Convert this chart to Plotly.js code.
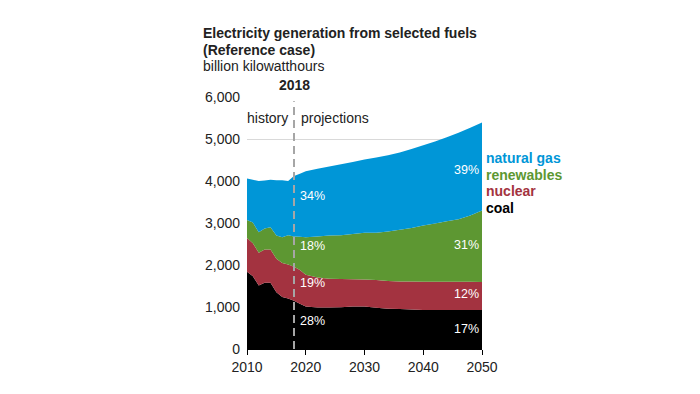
<!DOCTYPE html>
<html>
<head>
<meta charset="utf-8">
<script src="https://cdn.plot.ly/plotly-3.0.1.min.js"></script>
<style>html,body{margin:0;padding:0;background:#fff;}#chart{width:700px;height:394px;}</style>
</head>
<body>
<div id="chart"></div>
<script>
const years = [2010,2011,2012,2013,2014,2015,2016,2017,2018,2019,2020,2022,2024,2026,2028,2030,2032,2034,2036,2038,2040,2042,2044,2046,2048,2050];
const coal = [1840,1730,1510,1580,1580,1350,1240,1200,1150,1080,1010,990,990,995,1010,1010,985,960,950,940,930,930,930,930,930,930];
const nuclear = [800,790,780,790,790,800,810,810,810,800,760,710,680,670,650,645,655,660,660,665,670,670,670,670,670,665];
const renewables = [430,490,490,500,530,550,610,700,720,790,890,980,1030,1045,1080,1115,1130,1180,1230,1275,1340,1390,1440,1490,1580,1700];
const naturalGas = [990,1020,1220,1140,1130,1320,1360,1290,1440,1500,1570,1610,1645,1690,1715,1740,1790,1815,1840,1880,1910,1950,2000,2060,2090,2100];

const seriesNames = ['coal','nuclear','renewables','natural gas'];
const seriesColors = ['#000000','#a33340','#5d9732','#0096d7'];
const shares2018 = ['28%','19%','18%','34%'];
const shares2050 = ['17%','12%','31%','39%'];
const projectionStart = 2018;

const FONT = 'Liberation Sans, Arial, sans-serif';
const allSeries = [coal, nuclear, renewables, naturalGas];

const traces = allSeries.map((vals, i) => ({
  x: years, y: vals, name: seriesNames[i], type: 'scatter', mode: 'none',
  stackgroup: 'one', fillcolor: seriesColors[i], hoverinfo: 'x+y+name'
}));

// label positions (data coords) for share labels
const leftY = [667, 1566, 2462, 3647];
const rightY = [477, 1304, 2479, 4267];

const annotations = [];
shares2018.forEach((t, i) => annotations.push({
  x: 2018.7, y: leftY[i], xref: 'x', yref: 'y', text: t, showarrow: false,
  xanchor: 'left', yanchor: 'middle', font: {family: FONT, size: 12.5, color: '#ffffff'}
}));
shares2050.forEach((t, i) => annotations.push({
  x: 2049.8, y: rightY[i], xref: 'x', yref: 'y', text: t, showarrow: false,
  xanchor: 'right', yanchor: 'middle', font: {family: FONT, size: 12.5, color: '#ffffff'}
}));
// end legend labels
const legendY = [0.559, 0.6277, 0.6913, 0.7577];
seriesNames.forEach((n, i) => annotations.push({
  x: 1.0106, y: legendY[i], xref: 'paper', yref: 'paper', text: '<b>' + n + '</b>',
  showarrow: false, xanchor: 'left', yanchor: 'middle',
  font: {family: FONT, size: 14, color: seriesColors[i]}
}));
annotations.push({x: projectionStart, y: 1.049, xref: 'x', yref: 'paper', text: '<b>2018</b>',
  showarrow: false, xanchor: 'center', yanchor: 'middle', font: {family: FONT, size: 14, color: '#222'}});
annotations.push({x: 2017.3, y: 0.915, xref: 'x', yref: 'paper', text: 'history',
  showarrow: false, xanchor: 'right', yanchor: 'middle', font: {family: FONT, size: 14, color: '#222'}});
annotations.push({x: 2018.8, y: 0.915, xref: 'x', yref: 'paper', text: 'projections',
  showarrow: false, xanchor: 'left', yanchor: 'middle', font: {family: FONT, size: 14, color: '#222'}});
annotations.push({x: -0.197, y: 1.2543, xref: 'paper', yref: 'paper', text: '<b>Electricity generation from selected fuels</b>',
  showarrow: false, xanchor: 'left', yanchor: 'middle', font: {family: FONT, size: 14, color: '#222'}});
annotations.push({x: -0.197, y: 1.188, xref: 'paper', yref: 'paper', text: '<b>(Reference case)</b>',
  showarrow: false, xanchor: 'left', yanchor: 'middle', font: {family: FONT, size: 14, color: '#222'}});
annotations.push({x: -0.197, y: 1.1216, xref: 'paper', yref: 'paper', text: 'billion kilowatthours',
  showarrow: false, xanchor: 'left', yanchor: 'middle', font: {family: FONT, size: 14, color: '#222'}});

const layout = {
  width: 700, height: 394,
  margin: {l: 246.5, r: 217.5, t: 97.3, b: 45},
  paper_bgcolor: '#ffffff', plot_bgcolor: '#ffffff',
  showlegend: false,
  font: {family: FONT, size: 14, color: '#222'},
  xaxis: {range: [2010, 2050], dtick: 10, tick0: 2010, showgrid: false, zeroline: false,
    showline: true, linecolor: '#000', linewidth: 1, ticks: 'outside', ticklen: 5, tickcolor: '#000',
    tickfont: {family: FONT, size: 14, color: '#222'}, fixedrange: true},
  yaxis: {range: [0, 6000], dtick: 1000, tickformat: ',d', showgrid: true, gridcolor: '#d9d9d9',
    gridwidth: 1, zeroline: false, showline: false, ticks: '', ticklabelstandoff: 6,
    tickfont: {family: FONT, size: 14, color: '#222'}, fixedrange: true},
  shapes: [{type: 'line', xref: 'x', yref: 'y', x0: projectionStart, x1: projectionStart, y0: 0, y1: 5900,
    line: {color: '#a6a6a6', width: 2, dash: '8px,5px'}, layer: 'above'}],
  annotations: annotations
};

Plotly.newPlot('chart', traces, layout, {displayModeBar: false, staticPlot: true});
</script>
</body>
</html>
